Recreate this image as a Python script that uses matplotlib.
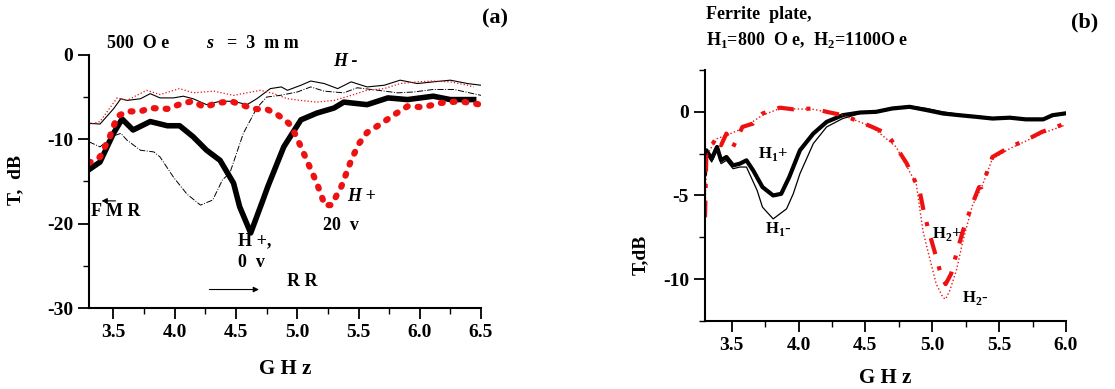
import numpy as np
import matplotlib
matplotlib.use("Agg")
import matplotlib.pyplot as plt
from matplotlib.ticker import MultipleLocator

plt.rcParams['font.family'] = ['Liberation Serif', 'DejaVu Serif']
plt.rcParams['font.weight'] = 'bold'
plt.rcParams['axes.unicode_minus'] = False
plt.rcParams['mathtext.fontset'] = 'custom'
plt.rcParams['mathtext.rm'] = 'Liberation Serif:bold'
plt.rcParams['mathtext.bf'] = 'Liberation Serif:bold'

# ---- panel (a) data: frequency (GHz), transmission (dB) ----
a_hp0_f = [3.30, 3.39, 3.50, 3.57, 3.66, 3.80, 3.94, 4.04, 4.15, 4.26, 4.37, 4.48, 4.53,
           4.62, 4.72, 4.76, 4.89, 5.03, 5.16, 5.30, 5.38, 5.57, 5.74, 5.90, 6.11, 6.25, 6.44]
a_hp0_t = [-13.6, -12.7, -9.3, -7.6, -8.9, -7.9, -8.4, -8.4, -9.7, -11.3, -12.5, -15.2, -18.0,
           -21.1, -17.2, -15.6, -10.9, -7.7, -6.9, -6.3, -5.6, -5.9, -5.1, -5.3, -4.9, -5.3, -5.3]

a_hp20_f = [3.30, 3.39, 3.47, 3.53, 3.61, 3.72, 3.80, 3.94, 4.07, 4.15, 4.24, 4.35, 4.46, 4.54,
            4.65, 4.76, 4.84, 4.93, 4.98, 5.03, 5.09, 5.16, 5.21, 5.22, 5.28, 5.33, 5.36, 5.44,
            5.50, 5.57, 5.68, 5.79, 5.90, 6.03, 6.17, 6.33, 6.50]
a_hp20_t = [-12.8, -12.1, -9.7, -7.3, -6.7, -6.7, -6.3, -6.4, -5.7, -5.5, -6.2, -5.7, -5.5, -5.9,
            -6.4, -6.5, -7.1, -8.1, -9.3, -10.9, -12.9, -15.2, -17.2, -17.8, -17.8, -16.4, -15.6, -12.5,
            -10.6, -9.2, -8.2, -7.1, -6.1, -6.2, -5.7, -5.5, -5.9]

a_hm0_f = [3.30, 3.39, 3.50, 3.56, 3.61, 3.72, 3.80, 3.88, 3.99, 4.07, 4.15, 4.26, 4.37, 4.48,
           4.59, 4.67, 4.78, 4.87, 4.92, 5.03, 5.11, 5.22, 5.33, 5.44, 5.57, 5.71, 5.84, 5.98,
           6.11, 6.25, 6.39, 6.50]
a_hm0_t = [-8.1, -8.2, -6.4, -5.2, -5.4, -5.2, -4.6, -5.1, -5.1, -4.9, -5.2, -5.9, -5.5, -5.5,
           -5.9, -5.2, -4.0, -3.8, -4.2, -3.6, -3.1, -3.4, -4.0, -3.2, -3.8, -3.6, -3.0, -3.4,
           -3.2, -3.0, -3.4, -3.6]

a_hm20_f = [3.30, 3.39, 3.53, 3.61, 3.77, 3.88, 4.04, 4.15, 4.32, 4.48, 4.59, 4.70, 4.81, 4.92,
            5.03, 5.16, 5.30, 5.44, 5.57, 5.71, 5.84, 5.98, 6.11, 6.25, 6.39, 6.44]
a_hm20_t = [-8.3, -7.9, -5.1, -5.4, -4.2, -4.7, -4.0, -4.5, -4.3, -4.8, -4.5, -4.2, -4.6, -5.2,
            -5.4, -5.6, -5.4, -4.8, -4.2, -4.0, -3.4, -3.2, -3.1, -3.2, -3.6, -3.8]

a_dip_f = [3.30, 3.39, 3.50, 3.56, 3.61, 3.72, 3.83, 3.88, 3.99, 4.10, 4.21, 4.31, 4.39, 4.45,
           4.56, 4.67, 4.75, 4.86, 5.00, 5.11, 5.22, 5.38, 5.49, 5.66, 5.82, 5.95, 6.11, 6.28, 6.50]
a_dip_t = [-10.3, -10.9, -9.6, -9.3, -10.1, -11.3, -11.5, -12.1, -14.5, -16.5, -17.8, -17.2, -14.8, -14.0,
           -9.3, -6.3, -5.0, -4.8, -4.4, -3.8, -4.3, -4.5, -3.9, -4.2, -4.5, -4.4, -4.1, -4.1, -4.8]

# ---- panel (b) data ----
b_h1p_f = [3.30, 3.31, 3.35, 3.39, 3.42, 3.46, 3.51, 3.56, 3.61, 3.66, 3.73, 3.81, 3.87, 3.93,
           4.01, 4.11, 4.21, 4.33, 4.46, 4.58, 4.70, 4.83, 4.96, 5.08, 5.20, 5.33, 5.45, 5.58,
           5.70, 5.83, 5.90, 5.99]
b_h1p_t = [-3.7, -2.3, -2.8, -2.1, -2.9, -2.7, -3.2, -3.1, -2.9, -3.5, -4.5, -5.0, -4.9, -3.9,
           -2.3, -1.3, -0.6, -0.2, -0.04, 0.0, 0.2, 0.3, 0.1, -0.1, -0.2, -0.3, -0.4, -0.35,
           -0.45, -0.45, -0.2, -0.1]

b_h1m_f = [3.30, 3.31, 3.35, 3.39, 3.42, 3.46, 3.51, 3.56, 3.61, 3.69, 3.73, 3.81, 3.91, 3.96,
           4.01, 4.11, 4.21, 4.33, 4.46, 4.58, 4.70, 4.83, 4.96, 5.08, 5.20, 5.33, 5.45, 5.58,
           5.70, 5.83, 5.90, 5.99]
b_h1m_t = [-3.9, -2.5, -3.0, -2.3, -3.1, -2.9, -3.4, -3.3, -3.3, -4.7, -5.7, -6.4, -5.8, -4.9,
           -3.7, -1.9, -0.9, -0.4, -0.1, 0.05, 0.25, 0.35, 0.2, 0.0, -0.15, -0.25, -0.35, -0.3,
           -0.4, -0.4, -0.25, -0.1]

b_h2p_f = [3.30, 3.31, 3.39, 3.42, 3.46, 3.51, 3.58, 3.66, 3.73, 3.86, 3.96, 4.11, 4.21, 4.33,
           4.46, 4.55, 4.66, 4.73, 4.81, 4.88, 4.90, 4.94, 4.98, 5.03, 5.07, 5.10, 5.14, 5.18,
           5.23, 5.30, 5.35, 5.37, 5.45, 5.58, 5.70, 5.82, 5.93, 5.99]
b_h2p_t = [-6.3, -2.5, -1.5, -2.0, -1.3, -2.1, -0.9, -0.7, -0.1, 0.25, 0.15, 0.2, 0.0, -0.2,
           -0.6, -0.9, -1.3, -2.1, -3.1, -4.3, -4.5, -6.1, -7.3, -8.7, -9.9, -10.3, -9.7, -8.5,
           -7.1, -5.5, -4.5, -4.5, -2.7, -2.1, -1.7, -1.2, -0.9, -0.7]

b_h2m_f = [3.30, 3.31, 3.39, 3.46, 3.58, 3.73, 3.86, 4.11, 4.33, 4.55, 4.73, 4.88, 4.93, 4.96,
           5.03, 5.08, 5.10, 5.13, 5.18, 5.23, 5.30, 5.37, 5.45, 5.58, 5.82, 5.99]
b_h2m_t = [-6.5, -2.6, -1.6, -1.4, -1.0, -0.2, 0.2, 0.15, -0.2, -0.9, -2.1, -4.3, -7.1, -8.1,
           -10.3, -11.1, -11.2, -10.7, -9.5, -7.7, -5.6, -4.5, -2.8, -2.2, -1.3, -0.8]

red = '#ee1111'

fig = plt.figure(figsize=(11.15, 3.89), dpi=100)
ax1 = fig.add_axes([0.0798, 0.208, 0.3516, 0.651])
ax2 = fig.add_axes([0.6323, 0.175, 0.3237, 0.645])

for ax in (ax1, ax2):
    ax.spines['top'].set_visible(False)
    ax.spines['right'].set_visible(False)
    for s in ('left', 'bottom'):
        ax.spines[s].set_linewidth(1.5)
    ax.tick_params(which='major', direction='out', length=8, width=1.3, labelsize=14)
    ax.tick_params(which='minor', direction='out', length=4, width=1.0)
    ax.xaxis.set_major_locator(MultipleLocator(0.5))
    ax.xaxis.set_minor_locator(MultipleLocator(0.25))

# panel (a)
ax1.plot(a_hm0_f, a_hm0_t, color='black', lw=0.8)
ax1.plot(a_hm20_f, a_hm20_t, color=red, lw=0.9, ls=':')
ax1.plot(a_dip_f, a_dip_t, color='black', lw=0.7, ls='-.')
ax1.plot(a_hp0_f, a_hp0_t, color='black', lw=4)
ax1.plot(a_hp20_f, a_hp20_t, color=red, lw=4.5, ls=(0, (0.3, 1.6)), dash_capstyle='round')
ax1.set_xlim(3.3, 6.5)
ax1.set_ylim(-30, 0)
ax1.yaxis.set_major_locator(MultipleLocator(10))
ax1.yaxis.set_minor_locator(MultipleLocator(5))
ax1.set_xlabel('G H z', fontsize=15, fontweight='bold', labelpad=13)

ax1.text(3.45, 1.4, '500  O e', fontsize=13, fontweight='bold', va='center', clip_on=False)
ax1.text(4.26, 1.4, 's', fontsize=13, fontweight='bold', style='italic', va='center', clip_on=False)
ax1.text(4.43, 1.4, '=  3  m m', fontsize=13, fontweight='bold', va='center', clip_on=False)
ax1.text(5.29, -0.8, 'H -', fontsize=13, fontweight='bold', style='italic', va='center')
ax1.text(5.41, -16.8, 'H +', fontsize=13, fontweight='bold', style='italic', va='center')
ax1.text(5.21, -20.2, '20  v', fontsize=13, fontweight='bold', va='center')
ax1.text(4.52, -22.0, 'H +,', fontsize=13, fontweight='bold', va='center')
ax1.text(4.52, -24.6, '0  v', fontsize=13, fontweight='bold', va='center')
ax1.text(3.32, -18.6, 'F M R', fontsize=13, fontweight='bold', va='center')
ax1.annotate('', xy=(3.38, -17.3), xytext=(3.54, -17.3),
             arrowprops=dict(arrowstyle='-|>', color='black', lw=0.8, mutation_scale=8))
ax1.text(4.92, -26.9, 'R R', fontsize=13, fontweight='bold', va='center')
ax1.annotate('', xy=(4.71, -27.8), xytext=(4.26, -27.8),
             arrowprops=dict(arrowstyle='-|>', color='black', lw=0.8, mutation_scale=8))

# panel (b)
ax2.plot(b_h1m_f, b_h1m_t, color='black', lw=0.9)
ax2.plot(b_h1p_f, b_h1p_t, color='black', lw=3)
ax2.plot(b_h2m_f, b_h2m_t, color=red, lw=1.0, ls=':')
ax2.plot(b_h2p_f, b_h2p_t, color=red, lw=3, ls=(0, (4, 3, 1, 3)))
ax2.set_xlim(3.3, 6.0)
ax2.set_ylim(-12.5, 2.5)
ax2.yaxis.set_major_locator(MultipleLocator(5))
ax2.yaxis.set_minor_locator(MultipleLocator(2.5))
ax2.set_xlabel('G H z', fontsize=15, fontweight='bold', labelpad=10)

ax2.text(3.70, -2.5, r'H$_{1}$+', fontsize=12, fontweight='bold', va='center')
ax2.text(3.75, -7.0, r'H$_{1}$-', fontsize=12, fontweight='bold', va='center')
ax2.text(5.00, -7.3, r'H$_{2}$+', fontsize=12, fontweight='bold', va='center')
ax2.text(5.22, -11.1, r'H$_{2}$-', fontsize=12, fontweight='bold', va='center')

# figure-level texts
fig.text(0.444, 0.953, '(a)', fontsize=16, fontweight='bold', ha='center', va='center')
fig.text(0.973, 0.943, '(b)', fontsize=16, fontweight='bold', ha='center', va='center')
fig.text(0.014, 0.537, 'T,  dB', fontsize=14, fontweight='bold', rotation=90, ha='center', va='center')
fig.text(0.574, 0.345, 'T,dB', fontsize=14, fontweight='bold', rotation=90, ha='center', va='center')
fig.text(0.633, 0.963, 'Ferrite  plate,', fontsize=13, fontweight='bold', va='center')
fig.text(0.633, 0.897, r'H$_{1}$=800  O e,  H$_{2}$=1100O e', fontsize=13, fontweight='bold', va='center')

fig.savefig('out.png', dpi=100)
